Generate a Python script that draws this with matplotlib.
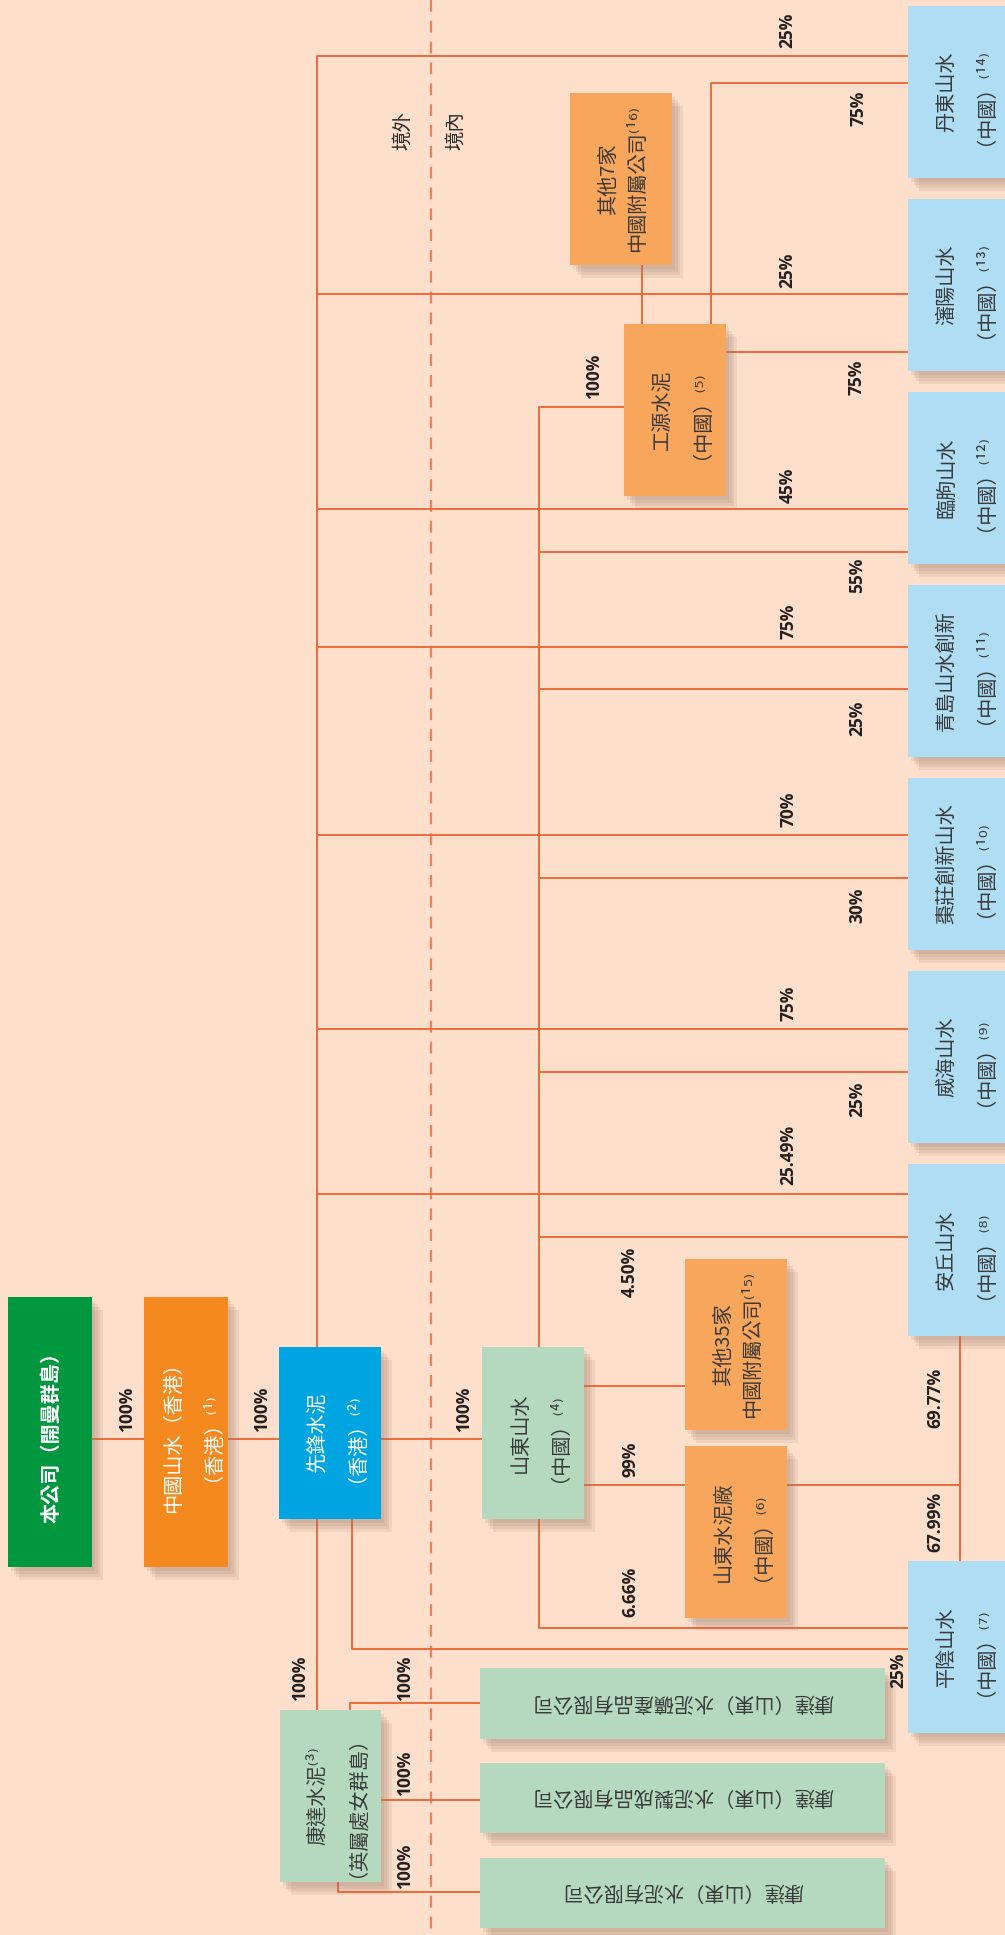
import matplotlib
matplotlib.use('Agg')
import matplotlib.pyplot as plt
from matplotlib.patches import Rectangle
from matplotlib import patheffects as pe

plt.rcParams['font.family'] = ['Noto Sans CJK TC', 'DejaVu Sans']
plt.rcParams['lines.scale_dashes'] = False

BG = '#FDDFCB'
LINE = '#EE6A3C'
DASH = '#F0815C'
INK = '#3a3a3a'

GREEN = '#00973F'
ORANGE = '#F3891F'
BLUE = '#00A4E1'
MINT = '#B5D9BF'
PEACH = '#F7A65B'
SKY = '#AEDDF4'

# --- companies (text, fill, text colour) ---
box_text = [
    '本公司（開曼群島）',
    '中國山水（香港）\n（香港）⁽¹⁾',
    '先鋒水泥\n（香港）⁽²⁾',
    '康達水泥⁽³⁾\n（英屬處女群島）',
    '山東山水\n（中國）⁽⁴⁾',
    '工源水泥\n（中國）⁽⁵⁾',
    '山東水泥廠\n（中國）⁽⁶⁾',
    '平陰山水\n（中國）⁽⁷⁾',
    '安丘山水\n（中國）⁽⁸⁾',
    '威海山水\n（中國）⁽⁹⁾',
    '棗莊創新山水\n（中國）⁽¹⁰⁾',
    '青島山水創新\n（中國）⁽¹¹⁾',
    '臨朐山水\n（中國）⁽¹²⁾',
    '瀋陽山水\n（中國）⁽¹³⁾',
    '丹東山水\n（中國）⁽¹⁴⁾',
    '其他35家\n中國附屬公司⁽¹⁵⁾',
    '其他7家\n中國附屬公司⁽¹⁶⁾',
    '康達（山東）水泥礦產品有限公司',
    '康達（山東）水泥製成品有限公司',
    '康達（山東）水泥有限公司',
]
box_fill = [GREEN, ORANGE, BLUE, MINT, MINT, PEACH, PEACH] + [SKY] * 8 + [PEACH, PEACH] + [MINT] * 3
box_ink = ['white', 'white', 'white'] + [INK] * 17
box_bold = [True] + [False] * 19
box_rot = [90] * 17 + [180] * 3

# layout of boxes in pixels (x, y, w, h)
box_xywh = [
    (8, 1297, 84, 270), (144, 1297, 84, 270), (279, 1347, 102, 172),
    (280, 1710, 101, 172), (482, 1347, 102, 172), (624, 324, 102, 172),
    (685, 1446, 102, 172), (908, 1561, 104, 172), (908, 1164, 104, 172),
    (908, 971, 104, 172), (908, 778, 104, 172), (908, 585, 104, 172),
    (908, 392, 104, 172), (908, 199, 104, 172), (908, 6, 104, 172),
    (685, 1259, 102, 171), (570, 93, 102, 172),
    (480, 1668, 405, 71), (480, 1763, 405, 70), (480, 1858, 405, 70),
]
LINE_GAP = 29
FS = 14.5
BASE_SHIFT = FS * 100 / 72 * 0.37   # glyph centre to baseline, px

# --- ownership percentages ---
pct_text = ['100%', '100%', '100%',
            '25%', '25%', '45%', '75%', '70%', '75%', '25.49%', '100%', '25%',
            '100%', '55%', '25%', '30%', '25%', '4.50%', '99%', '6.66%',
            '69.77%', '67.99%', '75%', '75%', '100%', '100%', '100%']
pct_xy = [(127, 1408), (262, 1408), (464, 1408),
          (787, 30), (787, 270), (788, 485), (788, 621), (788, 809), (788, 1003),
          (788, 1155), (300, 1677), (898, 1670),
          (594, 375), (857, 575), (857, 718), (857, 905), (857, 1099),
          (630, 1272), (630, 1459), (630, 1592),
          (935, 1398), (935, 1522), (858, 108), (857, 377),
          (405, 1677), (405, 1772), (405, 1865)]

# connector routes in pixels
routes = [
    [(92, 1439), (144, 1439)], [(228, 1439), (279, 1439)], [(381, 1439), (482, 1439)],
    [(317, 1347), (317, 56), (908, 56)], [(317, 294), (908, 294)],
    [(317, 509), (908, 509)], [(317, 647), (908, 647)], [(317, 835), (908, 835)],
    [(317, 1029), (908, 1029)], [(317, 1194), (908, 1194)],
    [(317, 1519), (317, 1710)], [(352, 1519), (352, 1649), (908, 1649)],
    [(539, 1347), (539, 407), (624, 407)], [(539, 552), (908, 552)],
    [(539, 689), (908, 689)], [(539, 878), (908, 878)], [(539, 1072), (908, 1072)],
    [(539, 1237), (908, 1237)], [(584, 1386), (685, 1386)], [(584, 1485), (685, 1485)],
    [(539, 1519), (539, 1628), (908, 1628)],
    [(787, 1485), (960, 1485), (960, 1336)], [(960, 1485), (960, 1561)],
    [(711, 324), (711, 83), (908, 83)], [(726, 352), (908, 352)],
    [(642, 324), (642, 265)],
    [(350, 1710), (350, 1703), (480, 1703)], [(381, 1800), (480, 1800)],
    [(338, 1882), (338, 1892), (480, 1892)],
]

fig = plt.figure(figsize=(10.05, 19.35), dpi=100)
fig.patch.set_facecolor(BG)
ax = fig.add_axes([0, 0, 1, 1])
ax.set_xlim(0, 1005)
ax.set_ylim(1935, 0)
ax.axis('off')
ax.set_facecolor(BG)

# dashed border between offshore / onshore
ax.plot([431, 431], [0, 1935], color=DASH, lw=1.6, dashes=(8.5, 6.5), zorder=1)
ax.text(402, 130, '境外', rotation=90, ha='center', va='center', fontsize=14, color='#2a2a2a')
ax.text(455, 130, '境內', rotation=90, ha='center', va='center', fontsize=14, color='#2a2a2a')

for r in routes:
    xs = [p[0] for p in r]
    ys = [p[1] for p in r]
    ax.plot(xs, ys, color=LINE, lw=1.4, solid_capstyle='butt', zorder=2)

# soft drop shadow built from a few offset layers
shadow = [pe.SimplePatchShadow(offset=(o, -o - 1), shadow_rgbFace='#9a7a68', alpha=0.13)
          for o in (2, 4, 6, 8)] + [pe.Normal()]
for (x, y, w, h), txt, fc, ink, bold, rot in zip(box_xywh, box_text, box_fill, box_ink, box_bold, box_rot):
    ax.add_patch(Rectangle((x, y), w, h, facecolor=fc, edgecolor='none', zorder=3,
                           path_effects=shadow))
    cx = x + w / 2
    cy = y + h / 2
    if rot == 90 and x + w > 1005:
        cx = x + 51
    lines = txt.split('\n')
    n = len(lines)
    for i, ln in enumerate(lines):
        off = (i - (n - 1) / 2) * LINE_GAP
        if rot == 90:
            tx, ty = cx + off + BASE_SHIFT, cy
        else:
            tx, ty = cx, cy - BASE_SHIFT
        ax.text(tx, ty, ln, rotation=rot, rotation_mode='anchor', ha='center', va='baseline',
                fontsize=FS, color=ink, fontweight='bold' if bold else 'normal', zorder=4)

for t, (x, y) in zip(pct_text, pct_xy):
    ax.text(x, y, t, rotation=90, ha='center', va='center', fontsize=12.5,
            fontweight='bold', family=['Open Sans', 'DejaVu Sans'], color='#231F20', zorder=5)

fig.savefig('out.png', dpi=100, facecolor=BG)
